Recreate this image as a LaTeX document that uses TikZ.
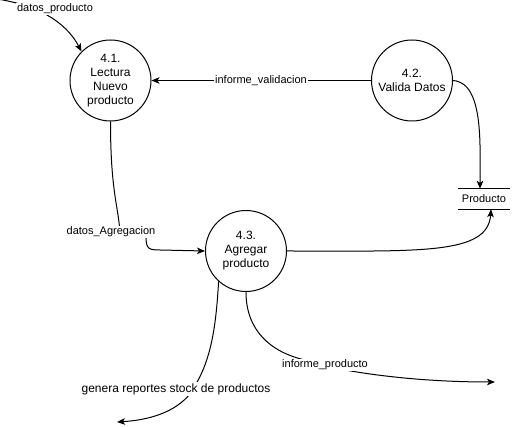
\documentclass[tikz,border=0pt]{standalone}
\usepackage{fontspec}
\setmainfont{Liberation Sans}
\usetikzlibrary{arrows.meta}
\tikzset{
  proc/.style={circle, draw, line width=1pt, minimum size=81pt, inner sep=0pt, align=center, font=\fontsize{12}{14}\selectfont},
  lbl/.style={fill=white, inner sep=1pt, font=\fontsize{11}{13}\selectfont},
  biglbl/.style={fill=white, inner sep=1pt, font=\fontsize{12}{14}\selectfont},
  flow/.style={draw, line width=1pt, -{Stealth[length=8pt,width=6.5pt,inset=2pt]}},
  storebox/.style={minimum width=52pt, minimum height=20pt, inner sep=0pt, font=\fontsize{11}{13}\selectfont}
}
\begin{document}
\begin{tikzpicture}[x=1pt,y=-1pt]
\useasboundingbox[fill=white] (0,0) rectangle (512,427);
% processes
\node[proc] (n41) at (110.5,80.5) {4.1.\\Lectura\\Nuevo\\producto};
\node[proc] (n42) at (412,80.5) {4.2.\\Valida Datos};
\node[proc] (n43) at (246,251) {4.3.\\Agregar\\producto};
% data store
\node[storebox] (store) at (484,199) {Producto};
\draw[line width=1pt] (store.north west) -- (store.north east);
\draw[line width=1pt] (store.south west) -- (store.south east);
% free ends
\coordinate (s1) at (-3,-1);
\coordinate (e2) at (117,422);
\coordinate (e3) at (495,382);
% flows
\draw[flow] (s1) .. controls (35,5) and (65,20) .. (n41.135);
\draw[flow] (n42.west) -- (n41.east);
\draw[flow] (n42.east) .. controls (470,82) and (479,100) .. (480,145) -- ([xshift=-4pt]store.north);
\draw[flow] (n41.south) .. controls (110.5,190) and (118,205) .. (120,232) -- (146,237) .. controls (146,249) and (149,250) .. (160,250) -- (n43.west);
\draw[flow] (n43.east) .. controls (420,251) and (488,255) .. ([xshift=7pt]store.south);
\draw[flow] (n43.228) .. controls (216,330) and (210,360) .. (196,384) -- (190,394) .. controls (175,412) and (150,420) .. (e2);
\draw[flow] (n43.south) .. controls (246,330) and (270,352) .. (305,360) -- (345,370) .. controls (390,378) and (440,382) .. (e3);
% labels
\node[lbl] (l1) at (55,9) {datos\_producto};
\node[lbl] (l2) at (261,80.5) {informe\_validacion};
\node[lbl] (l3) at (111,232) {datos\_Agregacion};
\node[biglbl] (l4) at (176,389) {genera reportes stock de productos};
\node[lbl] (l5) at (325,365) {informe\_producto};
\end{tikzpicture}
\end{document}
